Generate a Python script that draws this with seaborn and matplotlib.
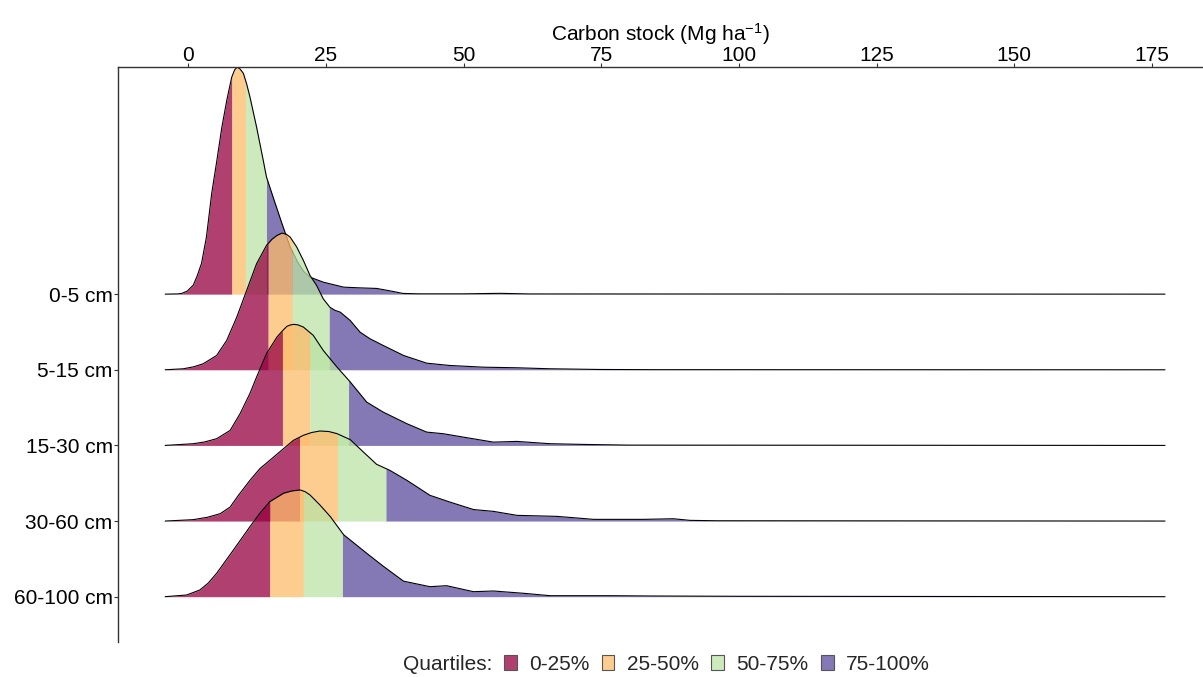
import numpy as np
import pandas as pd
import matplotlib
matplotlib.use("Agg")
import matplotlib.pyplot as plt
import matplotlib.colors as mcolors
from matplotlib.patches import Patch
import seaborn as sns

# ---------------- data ----------------
depths = ["0-5 cm", "5-15 cm", "15-30 cm", "30-60 cm", "60-100 cm"]
x_ticks = [0, 25, 50, 75, 100, 125, 150, 175]
quartile_labels = ["0-25%", "25-50%", "50-75%", "75-100%"]
data_min, data_max = -4.2, 177.4

# density profiles (x in Mg ha-1, relative density height)
x_0_5 = [-4.2, -2.0, -1.2, -0.2, 0.9, 1.6, 2.4, 3.3, 4.25, 5.2, 6.1, 7.0, 7.5, 7.9, 8.4, 8.9, 9.4, 10.0,
         10.6, 11.2, 12.4, 13.6, 14.2, 15.4, 17.0, 18.5, 20.0, 21.0, 22.1, 24.5, 28.2, 31.0, 34.2, 36.6,
         39.0, 42.0, 50.0, 56.6, 62.0, 177.4]
d_0_5 = [0, 0.2, 0.7, 3, 9, 18, 30.7, 57.3, 100.7, 134, 167, 194, 207, 217, 224, 227, 225, 220.7,
         210, 197, 167, 134, 117, 97, 70.7, 47, 30.7, 22.5, 17, 12, 7, 6.3, 5.7, 3.3,
         0.7, 0.3, 0.3, 0.8, 0.2, 0]
q_0_5 = [7.9, 10.4, 14.2]

x_5_15 = [-4.2, -0.9, 1.0, 2.7, 5.15, 6.97, 8.8, 10.6, 12.4, 14.2, 15.2, 16.1, 17.0, 17.8, 18.5, 19.7,
          20.9, 22.1, 23.3, 24.5, 25.7, 26.6, 27.6, 29.4, 31.2, 33.0, 35.4, 39.1, 43.3, 47.5, 53.6,
          59.7, 65.7, 74.8, 85.0, 177.4]
d_5_15 = [0, 1, 3, 6, 14.3, 29.3, 52.6, 79.3, 106, 124.3, 130.5, 134.3, 136.6, 135.5, 132.6, 122.6,
          109.3, 94.3, 84.3, 71, 62.6, 59.5, 57.6, 49.3, 37.6, 31, 24.3, 14.3, 6.6, 4.3, 2.6,
          2, 1, 0.3, 0.1, 0]
q_5_15 = [14.5, 18.9, 25.6]

x_15_30 = [-4.2, 0.9, 3.0, 5.15, 7.6, 9.4, 11.2, 12.4, 14.2, 16.1, 17.1, 17.9, 18.6, 19.2, 19.9, 20.9,
           22.7, 24.5, 27.0, 29.4, 32.4, 35.4, 39.7, 43.3, 46.3, 50.6, 55.4, 59.7, 65.7, 71.8, 80.0, 177.4]
d_15_30 = [0, 1.7, 3.5, 6.7, 15, 31.7, 52, 68.3, 91.7, 108.3, 114.5, 119, 120.5, 121, 120.5, 118.3,
           110, 95, 78.3, 63.5, 43.3, 33.3, 21.7, 13.3, 11.7, 7.7, 3.3, 4, 1.7, 1, 0.3, 0]
q_15_30 = [17.1, 22.1, 29.1]

x_30_60 = [-4.2, 0.9, 3.5, 5.8, 7.6, 9.1, 11.2, 13.0, 14.8, 17.3, 19.1, 20.9, 22.4, 23.9, 25.5, 27.0,
           29.4, 31.8, 34.2, 36.6, 39.7, 43.9, 47.5, 51.8, 55.4, 59.7, 66.9, 73.6, 82.7, 88.1, 91.1,
           95.9, 177.4]
d_30_60 = [0, 1.4, 3.8, 7.4, 14, 25.7, 40.7, 52.4, 60.7, 72.4, 80.7, 85.7, 88.5, 90, 89.5, 87.4,
           81.4, 69, 56.7, 50.7, 40.7, 25.7, 19, 11.5, 9.7, 5.7, 4.7, 1.7, 1.7, 2.3, 0.7,
           0.3, 0]
q_30_60 = [20.2, 27.1, 35.9]

x_60_100 = [-4.2, -0.3, 2.1, 3.6, 5.15, 8.2, 11.2, 13.0, 14.8, 17.3, 18.8, 20.3, 21.2, 22.1, 23.9,
            25.8, 28.2, 32.4, 35.4, 39.1, 43.9, 46.9, 51.8, 55.4, 60.9, 65.7, 76.6, 84.0, 100.0, 177.4]
d_60_100 = [0, 1.7, 6.7, 13.5, 23.4, 46.7, 70, 83.4, 95, 103.4, 105.7, 106.7, 105, 101.7, 91.7,
            80, 62, 43.4, 30.5, 15.5, 10, 11, 5, 5.7, 3.4, 1, 1, 0.7, 0.4, 0]
q_60_100 = [14.8, 20.9, 28.0]

profiles_x = [x_0_5, x_5_15, x_15_30, x_30_60, x_60_100]
profiles_d = [d_0_5, d_5_15, d_15_30, d_30_60, d_60_100]
quartiles = [q_0_5, q_5_15, q_15_30, q_30_60, q_60_100]

# ---------------- style ----------------
quartile_colors = ["#960040", "#FDBB6A", "#BBE3A4", "#5B4C9C"]
fill_alpha = 0.75
height_scale = 1 / 75.6   # relative density -> row units

sns.set_theme(style="white")
plt.rcParams["font.family"] = ["Liberation Sans", "DejaVu Sans"]
plt.rcParams["mathtext.fontset"] = "custom"
plt.rcParams["mathtext.rm"] = "Liberation Sans"
plt.rcParams["mathtext.it"] = "Liberation Sans:italic"

fig = plt.figure(figsize=(12.03, 6.77), dpi=100)
ax = fig.add_axes([118 / 1203, 1 - 641.7 / 677, (1203 - 118) / 1203, (641.7 - 67) / 677])

n = len(depths)
for i, (label, xs, ds, qs) in enumerate(zip(depths, profiles_x, profiles_d, quartiles)):
    base = n - 1 - i
    xs = np.asarray(xs, float)
    hs = np.asarray(ds, float) * height_scale
    bounds = [data_min] + list(qs) + [data_max]
    for k in range(4):
        a, b = bounds[k], bounds[k + 1]
        inner = xs[(xs > a) & (xs < b)]
        seg_x = np.concatenate([[a], inner, [b]])
        seg_h = np.interp(seg_x, xs, hs)
        ax.fill_between(seg_x, base, base + seg_h, color=quartile_colors[k],
                        alpha=fill_alpha, linewidth=0, zorder=1 + 2 * i)
    df = pd.DataFrame({"x": xs, "y": base + hs})
    sns.lineplot(data=df, x="x", y="y", ax=ax, color="black", linewidth=0.8,
                 estimator=None, sort=False, zorder=2 + 2 * i)

ax.set_xlim(-12.77, 184.3)
ax.set_ylim(-0.595, 7.003)

ax.set_yticks(range(n))
ax.set_yticklabels(depths[::-1])
ax.set_xticks(x_ticks)
ax.set_xticklabels([str(t) for t in x_ticks])
ax.xaxis.tick_top()
ax.xaxis.set_label_position("top")
ax.set_xlabel("Carbon stock (Mg ha$^{-1}$)", fontsize=15, color="black", labelpad=4)
ax.set_ylabel("")

for s in ["bottom", "right"]:
    ax.spines[s].set_visible(False)
for s in ["left", "top"]:
    ax.spines[s].set_visible(True)
    ax.spines[s].set_color("#333333")
    ax.spines[s].set_linewidth(1.0)
ax.tick_params(axis="both", which="major", direction="out", length=3, width=0.8,
               color="#333333", labelsize=15, labelcolor="black", pad=0.8)
ax.tick_params(axis="x", top=True, bottom=False, labeltop=True, labelbottom=False, pad=-1.5)
ax.tick_params(axis="y", left=True)
ax.grid(False)

handles = [Patch(facecolor=mcolors.to_rgba(c, fill_alpha), edgecolor="#555555", linewidth=0.8)
           for c in quartile_colors]
leg = fig.legend(handles, quartile_labels, loc="center left", ncol=4, frameon=False,
                 bbox_to_anchor=(504 / 1203, 1 - 664 / 677), fontsize=15,
                 handlelength=0.6, handleheight=0.75, handletextpad=0.6,
                 columnspacing=0.6, borderaxespad=0, borderpad=0)
fig.text(403 / 1203, 1 - 664 / 677, "Quartiles:", fontsize=15, ha="left", va="center")

fig.savefig("out.png", dpi=100)
